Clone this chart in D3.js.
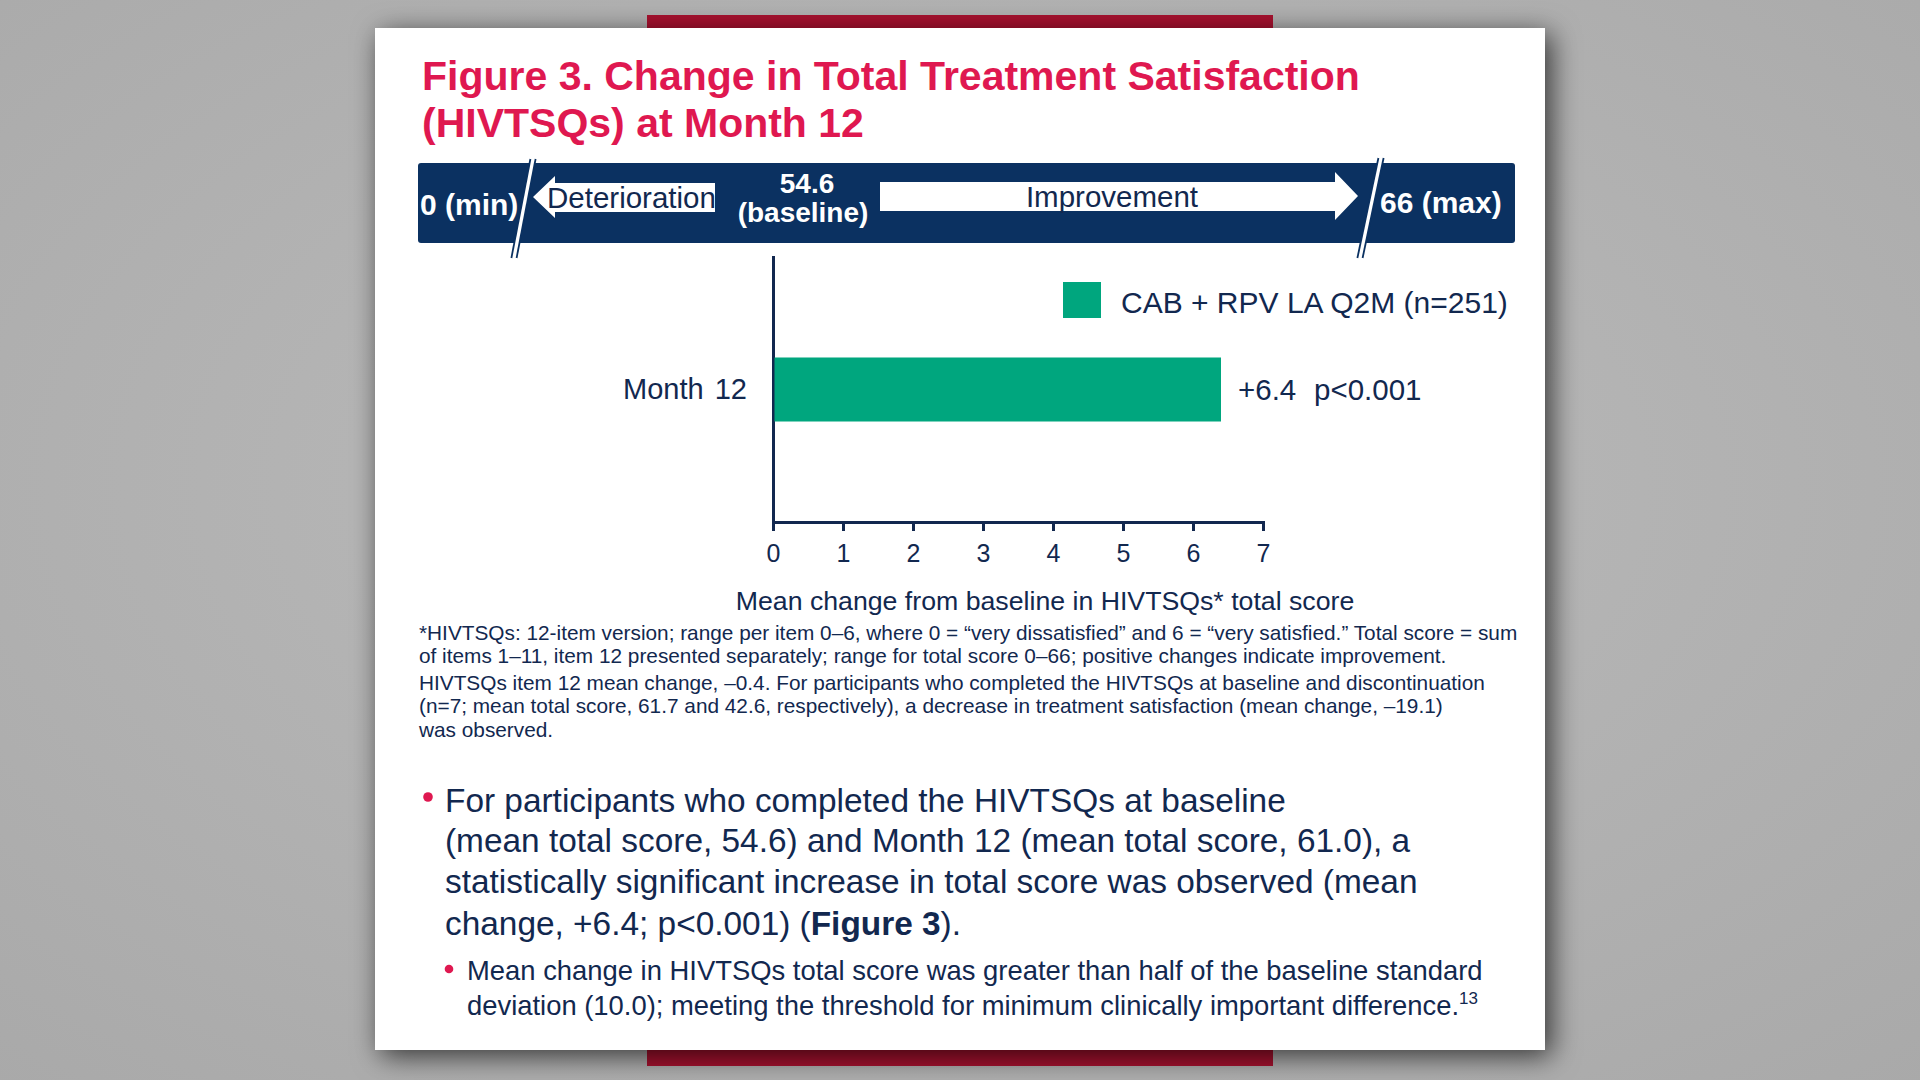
<!DOCTYPE html>
<html><head><meta charset="utf-8">
<script src="https://cdn.jsdelivr.net/npm/d3@7"></script>
<style>
body{margin:0;background:#b2b2b2;}
svg{display:block;font-family:"Liberation Sans",Arial,Helvetica,sans-serif;}
</style>
</head><body>
<svg id="c" width="1920" height="1080"></svg>
<script>
// ---------- data ----------
const categories = ["Month 12"];
const seriesName = "CAB + RPV LA Q2M (n=251)";
const meanChange = [6.4];
const valueLabels = ["+6.4"];
const pLabels = ["p<0.001"];
const xTicks = [0, 1, 2, 3, 4, 5, 6, 7];
const xDomain = [0, 7];
const axisTitle = "Mean change from baseline in HIVTSQs* total score";
const titleLines = ["Figure 3. Change in Total Treatment Satisfaction", "(HIVTSQs) at Month 12"];
const scaleMin = "0 (min)";
const scaleMax = "66 (max)";
const baselineLabel = ["54.6", "(baseline)"];
const worseLabel = "Deterioration";
const betterLabel = "Improvement";
const footnoteLines = [
  "*HIVTSQs: 12-item version; range per item 0\u20136, where 0 = \u201cvery dissatisfied\u201d and 6 = \u201cvery satisfied.\u201d Total score = sum",
  "of items 1\u201311, item 12 presented separately; range for total score 0\u201366; positive changes indicate improvement.",
  "HIVTSQs item 12 mean change, \u20130.4. For participants who completed the HIVTSQs at baseline and discontinuation",
  "(n=7; mean total score, 61.7 and 42.6, respectively), a decrease in treatment satisfaction (mean change, \u201319.1)",
  "was observed."
];
const bulletLines = [
  [["For participants who completed the HIVTSQs at baseline", false]],
  [["(mean total score, 54.6) and Month 12 (mean total score, 61.0), a", false]],
  [["statistically significant increase in total score was observed (mean", false]],
  [["change, +6.4; p<0.001) (", false], ["Figure 3", true], [").", false]]
];
const subBulletLines = [
  "Mean change in HIVTSQs total score was greater than half of the baseline standard",
  "deviation (10.0); meeting the threshold for minimum clinically important difference."
];
const subBulletRef = "13";

// ---------- styles ----------
const NAVY = "#0b3161", TEXT = "#12284f", GREEN = "#00a67e", RED = "#df1850";

const svg = d3.select("#c");
const defs = svg.append("defs");
const rg = defs.append("radialGradient").attr("id", "bg").attr("cx", "50%").attr("cy", "45%").attr("r", "75%");
rg.append("stop").attr("offset", "0%").attr("stop-color", "#bcbcbc");
rg.append("stop").attr("offset", "100%").attr("stop-color", "#a9a9a9");
const f = defs.append("filter").attr("id", "sh").attr("x", "-10%").attr("y", "-10%").attr("width", "125%").attr("height", "125%");
f.append("feDropShadow").attr("dx", 6).attr("dy", 6).attr("stdDeviation", 14)
  .attr("flood-color", "#000").attr("flood-opacity", 0.7);

svg.append("rect").attr("width", 1920).attr("height", 1080).attr("fill", "url(#bg)");
// red strips behind the card
svg.append("rect").attr("x", 647).attr("y", 15).attr("width", 626).attr("height", 20).attr("fill", "#a8112f");
svg.append("rect").attr("x", 647).attr("y", 1040).attr("width", 626).attr("height", 26).attr("fill", "#a8112f");
// card
svg.append("rect").attr("x", 375).attr("y", 28).attr("width", 1170).attr("height", 1022)
  .attr("fill", "#fff").attr("filter", "url(#sh)");

// title
svg.append("g").selectAll("text").data(titleLines).join("text")
  .attr("x", 422).attr("y", (d, i) => 90 + i * 47)
  .attr("font-size", 41).attr("font-weight", "bold").attr("fill", RED).text(d => d);

// ---------- banner ----------
const ban = svg.append("g");
ban.append("rect").attr("x", 418).attr("y", 163).attr("width", 1097).attr("height", 80).attr("rx", 3).attr("fill", NAVY);
ban.append("polygon").attr("fill", "#fff")
  .attr("points", "533,197 555,176 555,183 715,183 715,212 555,212 555,218");
ban.append("polygon").attr("fill", "#fff")
  .attr("points", "880,182 1335,182 1335,172 1358,196 1335,220 1335,211 880,211");
function slash(x1, y1, x2, y2) {
  ban.append("line").attr("x1", x1).attr("y1", y1).attr("x2", x2).attr("y2", y2)
    .attr("stroke", "#fff").attr("stroke-width", 5);
  [-2.6, 2.6].forEach(o => ban.append("line").attr("x1", x1 + o).attr("y1", y1).attr("x2", x2 + o).attr("y2", y2)
    .attr("stroke", NAVY).attr("stroke-width", 1.8));
}
slash(533, 159, 514, 258);
slash(1381, 158, 1360, 258);
ban.append("text").attr("x", 420).attr("y", 215).attr("font-size", 30).attr("font-weight", "bold").attr("fill", "#fff").text(scaleMin);
ban.append("text").attr("x", 1380).attr("y", 213).attr("font-size", 30).attr("font-weight", "bold").attr("fill", "#fff").text(scaleMax);
ban.append("text").attr("x", 547).attr("y", 208).attr("font-size", 29.5).attr("fill", TEXT).text(worseLabel);
ban.append("text").attr("x", 1112).attr("y", 207).attr("text-anchor", "middle").attr("font-size", 29.5).attr("fill", TEXT).text(betterLabel);
ban.selectAll("text.bl").data(baselineLabel).join("text").attr("class", "bl")
  .attr("x", (d, i) => i ? 803 : 807).attr("y", (d, i) => 193 + i * 29)
  .attr("text-anchor", "middle").attr("font-size", 28).attr("font-weight", "bold").attr("fill", "#fff").text(d => d);

// ---------- chart ----------
const x = d3.scaleLinear().domain(xDomain).range([773, 1263]);
const y = d3.scaleBand().domain(categories).range([257, 522]).paddingInner(0).paddingOuter(1.57);
const chart = svg.append("g");

const xa = chart.append("g").attr("transform", "translate(0,522)")
  .call(d3.axisBottom(x).tickValues(xTicks).tickSize(9).tickSizeOuter(0).tickFormat(d3.format("d")));
xa.selectAll("path,line").attr("stroke", TEXT).attr("stroke-width", 3);
xa.select("path").attr("stroke-linecap", "square");
xa.selectAll("text").attr("y", 40).attr("dy", 0).attr("font-size", 25).attr("fill", TEXT)
  .attr("font-family", "Liberation Sans, Arial, sans-serif");

const ya = chart.append("g").attr("transform", "translate(773,0)")
  .call(d3.axisLeft(y).tickSize(0).tickSizeOuter(0).tickPadding(26));
ya.select("path").attr("stroke", TEXT).attr("stroke-width", 3).attr("stroke-linecap", "square");
ya.selectAll("text").attr("font-size", 29).attr("fill", TEXT).attr("word-spacing", 3)
  .attr("font-family", "Liberation Sans, Arial, sans-serif");

chart.selectAll("rect.bar").data(meanChange).join("rect").attr("class", "bar")
  .attr("x", x(0) + 1.5).attr("y", (d, i) => y(categories[i]))
  .attr("width", d => x(d) - x(0) - 1.5).attr("height", y.bandwidth()).attr("fill", GREEN);
chart.selectAll("text.val").data(meanChange).join("text").attr("class", "val")
  .attr("x", d => x(d) + 17).attr("y", (d, i) => y(categories[i]) + y.bandwidth() / 2 + 10)
  .attr("font-size", 29.5).attr("fill", TEXT).text((d, i) => valueLabels[i]);
chart.selectAll("text.p").data(meanChange).join("text").attr("class", "p")
  .attr("x", d => x(d) + 93).attr("y", (d, i) => y(categories[i]) + y.bandwidth() / 2 + 10)
  .attr("font-size", 29.5).attr("fill", TEXT).text((d, i) => pLabels[i]);

// legend
chart.append("rect").attr("x", 1063).attr("y", 282).attr("width", 38).attr("height", 36).attr("fill", GREEN);
chart.append("text").attr("x", 1121).attr("y", 313).attr("font-size", 30).attr("fill", TEXT).text(seriesName);

// axis title
chart.append("text").attr("x", 1045).attr("y", 610).attr("text-anchor", "middle")
  .attr("font-size", 26.7).attr("fill", TEXT).text(axisTitle);

// ---------- footnote ----------
function fitFont(sel, base, target) {
  const w = sel.node().getComputedTextLength();
  return base * target / w;
}
const fn = svg.append("g").attr("fill", TEXT);
const fnY = [640, 663, 690, 713, 737];
const fnT = fn.selectAll("text").data(footnoteLines).join("text")
  .attr("x", 419).attr("y", (d, i) => fnY[i]).attr("font-size", 18).text(d => d);
const fnSize = fitFont(fnT.filter((d, i) => i === 0), 18, 1099);
fnT.attr("font-size", fnSize);

// ---------- bullets ----------
const bl = svg.append("g").attr("fill", TEXT);
bl.append("circle").attr("cx", 428).attr("cy", 797).attr("r", 4.8).attr("fill", RED);
const bY = [812, 852, 893, 935];
const bT = bl.selectAll("text").data(bulletLines).join("text")
  .attr("x", 445).attr("y", (d, i) => bY[i]).attr("font-size", 30);
bT.selectAll("tspan").data(d => d).join("tspan")
  .attr("font-weight", d => d[1] ? "bold" : null).text(d => d[0]);
const bSize = fitFont(bT.filter((d, i) => i === 0), 30, 841);
bT.attr("font-size", bSize);

const sb = svg.append("g").attr("fill", TEXT);
sb.append("circle").attr("cx", 449).attr("cy", 969).attr("r", 4.3).attr("fill", RED);
const sY = [980, 1015];
const sT = sb.selectAll("text").data(subBulletLines).join("text")
  .attr("x", 467).attr("y", (d, i) => sY[i]).attr("font-size", 27).text(d => d);
const sSize = fitFont(sT.filter((d, i) => i === 0), 27, 1016);
sT.attr("font-size", sSize);
sT.filter((d, i) => i === 1).append("tspan").attr("font-size", sSize * 0.62).attr("dy", -11).text(subBulletRef);
</script>
</body></html>
